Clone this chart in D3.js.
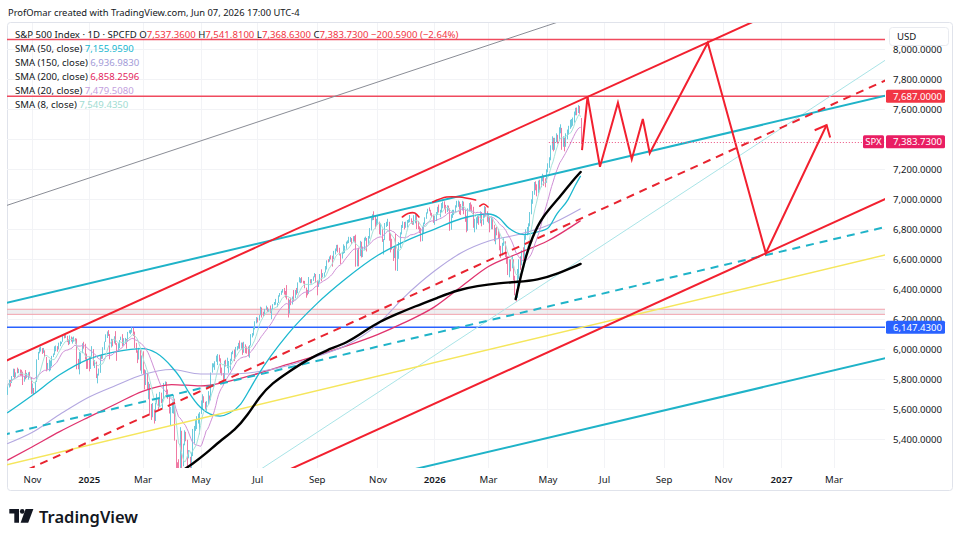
<!DOCTYPE html>
<html>
<head>
<meta charset="utf-8">
<script src="https://cdn.jsdelivr.net/npm/d3@7"></script>
<style>
  body { margin: 0; background: #fff; }
  svg text { font-family: "Noto Sans", sans-serif; }
</style>
</head>
<body>
<svg id="chart" width="961" height="540"></svg>
<script>
// ---- data (daily bars of the S&P 500, Oct 8 2024 .. Jun 5 2026) ----
const closes = [
  // Oct 2024
  5751,5792,5780,5815,5859,5815,5842,5841,5864,5853,5851,5797,5809,5808,5823,5832,5813,5705,
  // Nov 2024
  5728,5712,5782,5929,5973,5996,6001,5984,5985,5949,5871,5893,5917,5917,5949,5969,5987,6021,5999,6032,
  // Dec 2024
  6047,6050,6087,6075,6090,6053,6034,6085,6051,6051,6074,6050,5872,5867,5931,5974,6040,6037,5971,5907,5882,
  // Jan 2025
  5869,5942,5975,5909,5918,5827,5836,5843,5950,5937,5997,6049,6086,6119,6101,6012,6067,6039,6071,6041,
  // Feb 2025
  5994,6037,6061,6083,6026,6066,6069,6052,6115,6115,6129,6144,6118,6013,5983,5955,5956,5861,5955,
  // Mar 2025
  5850,5778,5843,5739,5770,5615,5572,5599,5522,5639,5675,5615,5675,5663,5668,5768,5777,5712,5693,5581,5612,
  // Apr 2025
  5633,5671,5397,5074,5062,4982,5457,5268,5363,5406,5397,5276,5283,5158,5288,5376,5485,5525,5529,5561,5569,
  // May 2025
  5604,5687,5650,5607,5631,5664,5660,5844,5886,5892,5917,5958,5964,5940,5845,5842,5803,5922,5889,5912,5912,
  // Jun 2025
  5936,5970,5971,5939,6000,6006,6039,6022,6045,5977,6033,5983,5981,5968,6025,6092,6092,6141,6173,6205,
  // Jul 2025
  6198,6227,6279,6230,6226,6263,6280,6260,6269,6244,6264,6297,6297,6306,6309,6359,6363,6389,6390,6371,6362,6339,
  // Aug 2025
  6238,6330,6299,6345,6340,6389,6374,6446,6466,6469,6450,6449,6411,6396,6370,6467,6439,6465,6481,6502,6460,
  // Sep 2025
  6416,6448,6502,6482,6495,6512,6532,6588,6584,6615,6607,6600,6632,6664,6693,6657,6638,6605,6644,6661,6688,
  // Oct 2025
  6711,6715,6716,6740,6714,6753,6735,6553,6655,6644,6671,6630,6664,6735,6735,6699,6738,6792,6875,6891,6890,6822,6840,
  // Nov 2025
  6851,6771,6796,6720,6728,6832,6846,6850,6737,6734,6672,6617,6642,6538,6603,6705,6766,6813,6849,
  // Dec 2025
  6812,6829,6850,6857,6870,6846,6840,6886,6901,6827,6816,6800,6721,6775,6834,6878,6910,6932,6930,6905,6896,6845,
  // Jan 2026
  6858,6902,6944,6920,6921,6966,6977,6963,6927,6944,6940,6797,6876,6913,6915,6950,6978,6978,6969,6939,
  // Feb 2026
  6975,6918,6882,6798,6932,6965,6942,6941,6833,6836,6843,6881,6861,6909,6837,6890,6946,6908,6879,
  // Mar 2026
  6880,6816,6870,6830,6740,6795,6781,6775,6672,6632,6699,6716,6625,6606,6506,6581,6556,6592,6477,6369,6343,6528,
  // Apr 2026
  6575,6560,6640,6610,6745,6770,6790,6820,6905,6990,7040,7105,7090,7055,7110,7085,7140,7150,7120,7115,7190,
  // May 2026
  7230,7262,7345,7398,7337,7398,7412,7400,7470,7476,7385,7402,7375,7425,7454,7479,7518,7520,7530,7575,
  // Jun 2026
  7600,7585,7618,7584.32,7383.73
];
const highs = [
  5757,5796,5796,5822,5871,5870,5846,5878,5870,5866,5863,5834,5822,5862,5843,5847,5850,5775,
  5772,5742,5784,5933,5983,6012,6018,6008,6009,5993,5929,5909,5932,5925,5956,5972,6020,6025,6020,6044,
  6053,6050,6092,6099,6100,6088,6065,6093,6079,6079,6085,6057,6071,5936,5982,5978,6040,6050,6007,5941,5930,
  5949,5949,6021,6001,5928,5902,5837,5872,5961,5965,6014,6051,6100,6119,6128,6018,6070,6059,6087,6121,
  6022,6042,6062,6084,6101,6074,6076,6064,6116,6127,6129,6147,6134,6115,6043,5993,6010,5994,5959,
  5987,5866,5860,5812,5783,5705,5636,5642,5597,5645,5704,5654,5716,5711,5670,5776,5786,5783,5732,5690,5615,
  5651,5696,5500,5292,5247,5267,5481,5405,5371,5460,5450,5367,5328,5233,5309,5469,5489,5528,5554,5571,5581,
  5659,5700,5683,5650,5654,5721,5692,5845,5907,5906,5920,5958,5968,5953,5939,5878,5839,5924,5930,5944,5922,
  5937,5981,5991,5999,6016,6021,6043,6059,6045,6026,6050,6024,6019,6019,6028,6101,6108,6146,6187,6215,
  6211,6228,6284,6278,6250,6269,6291,6269,6270,6292,6271,6301,6315,6336,6310,6360,6375,6390,6402,6409,6389,6428,
  6288,6330,6345,6352,6395,6395,6409,6446,6481,6474,6481,6457,6456,6398,6394,6482,6467,6468,6486,6508,6490,
  6416,6454,6502,6533,6508,6513,6555,6593,6601,6619,6627,6624,6656,6672,6696,6697,6677,6634,6650,6700,6690,
  6718,6726,6750,6749,6741,6754,6756,6764,6665,6678,6723,6717,6685,6744,6751,6742,6755,6808,6876,6900,6920,6875,6870,
  6890,6804,6839,6800,6735,6842,6850,6870,6842,6775,6737,6666,6683,6770,6664,6715,6780,6829,6853,
  6843,6851,6862,6866,6895,6873,6856,6894,6905,6901,6856,6820,6810,6816,6845,6880,6913,6937,6946,6925,6910,6898,
  6890,6915,6950,6965,6930,6975,6985,6986,6955,6960,6958,6880,6900,6930,6930,6960,6990,6992,6985,6960,
  6990,6985,6930,6890,6940,6975,6980,6965,6950,6870,6880,6900,6890,6920,6915,6900,6955,6950,6920,
  6905,6870,6885,6880,6820,6810,6815,6800,6770,6690,6710,6740,6720,6650,6620,6600,6600,6620,6600,6490,6400,6535,
  6600,6620,6660,6680,6760,6800,6815,6840,6915,7000,7055,7115,7120,7100,7125,7130,7150,7170,7160,7140,7200,
  7240,7280,7360,7420,7410,7410,7440,7430,7480,7500,7470,7420,7410,7440,7465,7490,7530,7535,7545,7585,
  7610,7612,7628,7622,7541.81
];
const lows = [
  5704,5745,5752,5775,5824,5807,5815,5840,5846,5824,5824,5762,5784,5800,5818,5798,5811,5703,
  5723,5697,5728,5886,5947,5975,5985,5969,5976,5950,5853,5864,5853,5860,5886,5948,5963,5993,5984,6003,
  6021,6036,6061,6073,6080,6048,6028,6061,6051,6038,6060,6036,5867,5867,5833,5902,5982,6004,5932,5869,5870,
  5853,5888,5960,5890,5875,5808,5773,5825,5924,5936,5971,6007,6066,6075,6089,5933,6012,6020,6046,6030,
  5923,5990,6007,6066,6020,6048,6043,6004,6052,6107,6100,6111,6089,6009,5977,5908,5932,5858,5837,
  5836,5732,5762,5734,5667,5565,5529,5547,5505,5562,5640,5597,5622,5641,5603,5724,5760,5695,5670,5572,5489,
  5574,5571,5391,5070,4835,4910,4857,5116,5220,5360,5387,5221,5273,5101,5208,5357,5372,5456,5468,5505,5433,
  5598,5640,5643,5599,5590,5649,5650,5786,5856,5880,5863,5926,5895,5919,5840,5825,5768,5855,5885,5874,5843,
  5861,5921,5967,5921,5979,5993,6004,6003,6004,5963,6008,5974,5971,5952,5943,6070,6079,6106,6132,6175,
  6179,6192,6240,6212,6221,6238,6264,6249,6248,6243,6201,6264,6294,6303,6281,6317,6351,6364,6378,6365,6345,6332,
  6212,6272,6294,6301,6317,6350,6364,6386,6447,6441,6444,6438,6407,6344,6360,6371,6439,6438,6456,6480,6445,
  6360,6416,6444,6454,6480,6483,6516,6545,6579,6596,6599,6551,6615,6633,6654,6646,6626,6569,6607,6637,6642,
  6670,6704,6708,6718,6701,6722,6717,6551,6612,6553,6621,6612,6615,6681,6724,6652,6705,6768,6840,6860,6862,6805,6822,
  6830,6767,6760,6716,6632,6799,6815,6822,6724,6646,6664,6589,6608,6525,6522,6635,6676,6775,6809,
  6799,6810,6811,6843,6847,6838,6830,6830,6840,6801,6800,6775,6718,6745,6790,6840,6870,6905,6920,6892,6880,6843,
  6830,6855,6895,6912,6880,6915,6940,6935,6905,6915,6925,6790,6800,6880,6895,6910,6945,6950,6900,6895,
  6925,6900,6850,6780,6790,6920,6930,6910,6810,6780,6800,6840,6830,6840,6820,6830,6880,6890,6850,
  6840,6780,6800,6800,6720,6700,6760,6740,6660,6610,6625,6690,6615,6570,6495,6480,6520,6540,6460,6360,6316,6370,
  6470,6530,6570,6590,6680,6730,6760,6770,6820,6900,6970,7030,7060,7020,7040,7060,7080,7120,7090,7080,7110,
  7180,7210,7260,7330,7320,7330,7380,7370,7390,7440,7330,7350,7320,7350,7400,7430,7470,7480,7490,7510,
  7560,7560,7575,7570,7368.63
];
const firstDay = "2024-10-08";
const closeBeforeFirst = 5695.94;
const lastOpen = 7537.36;

const holidays = ["2024-11-28","2024-12-25","2025-01-01","2025-01-09","2025-01-20","2025-02-17",
  "2025-04-18","2025-05-26","2025-06-19","2025-07-04","2025-09-01","2025-11-27","2025-12-25",
  "2026-01-01","2026-01-19","2026-02-16","2026-04-03","2026-05-25","2026-06-19","2026-07-03",
  "2026-09-07","2026-11-26","2026-12-25","2027-01-01","2027-01-18","2027-02-15","2027-03-26"];

// moving averages (50 / 150 / 200 day)
const sma50 = [["2024-10-08",5575],["2024-11-01",5692],["2024-12-02",5830],["2025-01-02",5935],
  ["2025-02-03",5985],["2025-03-03",6005],["2025-03-17",5975],["2025-04-01",5884],["2025-04-09",5815],
  ["2025-04-17",5720],["2025-05-01",5612],["2025-05-12",5568],["2025-05-21",5555],["2025-06-02",5575],
  ["2025-06-12",5635],["2025-06-24",5740],["2025-07-01",5820],["2025-08-01",6100],["2025-09-02",6303],
  ["2025-10-01",6470],["2025-11-03",6625],["2025-12-01",6716],["2026-01-02",6800],["2026-02-02",6872],
  ["2026-03-02",6902],["2026-03-12",6875],["2026-03-23",6808],["2026-04-08",6765],["2026-04-16",6775],
  ["2026-05-01",6805],["2026-05-12",6905],["2026-05-22",7000],["2026-06-01",7090],["2026-06-05",7156]];
const sma150 = [["2024-10-08",5370],["2024-11-01",5445],["2024-12-02",5565],["2025-01-02",5680],
  ["2025-02-03",5760],["2025-03-03",5830],["2025-04-01",5865],["2025-05-01",5835],["2025-06-02",5835],
  ["2025-07-01",5850],["2025-08-01",5890],["2025-09-02",5952],["2025-10-01",6025],["2025-11-03",6165],
  ["2025-12-01",6345],["2026-01-02",6520],["2026-02-02",6645],["2026-03-02",6720],["2026-04-01",6765],
  ["2026-05-01",6825],["2026-06-05",6937]];
const sma200 = [["2024-10-08",5260],["2024-11-01",5349],["2024-12-02",5451],["2025-01-02",5548],
  ["2025-02-03",5637],["2025-03-03",5720],["2025-04-01",5765],["2025-05-01",5756],["2025-06-02",5788],
  ["2025-07-01",5837],["2025-08-01",5899],["2025-09-02",5958],["2025-10-01",6021],["2025-11-03",6098],
  ["2025-12-01",6176],["2026-01-02",6281],["2026-02-02",6420],["2026-03-02",6550],["2026-04-01",6640],
  ["2026-05-01",6722],["2026-06-05",6858]];

const smaNames = ["SMA (50, close)","SMA (150, close)","SMA (200, close)","SMA (20, close)","SMA (8, close)"];
const smaLast  = [7155.9590, 6936.9830, 6858.2596, 7479.5080, 7549.4350];

// drawings
const grayLine      = [["2024-10-08",6960],["2026-04-01",8094]];
const channelTop    = [["2024-10-08",5927],["2026-06-01",7645]];
const channelBottom = [["2024-10-08",4344],["2026-06-01",6063]];
const wedgeTop      = [["2024-10-08",6311],["2026-06-01",7203]];
const wedgeBottom   = [["2024-10-08",4561],["2026-06-01",5453]];
const yellowLine    = [["2024-10-08",5231],["2026-06-01",6135]];
const tealLine      = [["2024-10-08",4093],["2026-06-01",6573]];
const levels = [8065, 7687, 6147.43];
const band = [6233, 6267];

const brushLong = [["2025-04-09",5180],["2025-04-23",5235],["2025-05-07",5305],["2025-05-21",5389],
  ["2025-06-06",5462],["2025-06-20",5560],["2025-07-03",5689],["2025-07-17",5775],["2025-08-01",5845],
  ["2025-08-21",5929],["2025-09-11",5995],["2025-10-02",6042],["2025-10-22",6129],["2025-11-04",6182],
  ["2025-11-21",6235],["2025-12-10",6282],["2026-01-08",6349],["2026-01-28",6395],["2026-02-18",6422],
  ["2026-03-12",6442],["2026-03-31",6449],["2026-04-22",6462],["2026-05-12",6502],["2026-06-05",6569]];
const brushSteep = [["2026-03-30",6335],["2026-04-08",6582],["2026-04-16",6749],["2026-04-27",6882],
  ["2026-05-14",7015],["2026-05-28",7122],["2026-06-05",7182]];
const arcA = [["2025-11-28",6882],["2025-12-04",6905],["2025-12-11",6909],["2025-12-16",6882]];
const arcB = [["2025-12-31",6982],["2026-01-15",7015],["2026-01-29",7015],["2026-02-17",6995]];
const arcC = [["2026-02-20",6955],["2026-02-25",6969],["2026-03-02",6949]];
const projection = [["2026-06-08",7328],["2026-06-12",7684],["2026-06-26",7217],["2026-07-16",7644],
  ["2026-07-30",7267],["2026-08-11",7535],["2026-08-18",7307],["2026-10-16",8044],["2026-12-16",6640],
  ["2027-02-22",7495]];
const priceLineFrom = "2026-05-04";

const priceTicks = [5400,5600,5800,6000,6200,6400,6600,6800,7000,7200,7400,7600,7800,8000];
const tickDates  = ["2024-11-01","2025-01-02","2025-03-03","2025-05-01","2025-07-01","2025-09-02",
  "2025-11-03","2026-01-02","2026-03-02","2026-05-01","2026-07-01","2026-09-01","2026-11-02",
  "2027-01-04","2027-03-01"];
const tickLabels = ["Nov","2025","Mar","May","Jul","Sep","Nov","2026","Mar","May","Jul","Sep","Nov","2027","Mar"];

// ---- setup ----
const plot = {left: 7, right: 885, top: 23, bottom: 468};
const svg = d3.select("#chart");
svg.append("rect").attr("width", 961).attr("height", 540).attr("fill", "#fff");

// trading-day calendar, so bars sit evenly like TradingView
const calendar = [];
(function () {
  const hol = new Set(holidays);
  const fmt = d3.utcFormat("%Y-%m-%d");
  const d = new Date(firstDay + "T00:00:00Z");
  const end = new Date("2027-06-30T00:00:00Z");
  while (d <= end) {
    const wd = d.getUTCDay(), s = fmt(d);
    if (wd !== 0 && wd !== 6 && !hol.has(s)) calendar.push(s);
    d.setUTCDate(d.getUTCDate() + 1);
  }
})();
const barOf = s => d3.bisectLeft(calendar, s);

const x = d3.scaleLinear().domain([barOf("2024-11-01"), barOf("2027-01-04")]).range([32, 781]);
const y = d3.scaleLinear().domain([5400, 8000]).range([439.3, 49.3]);

svg.append("defs").append("clipPath").attr("id", "plotClip")
  .append("rect").attr("x", plot.left).attr("y", plot.top)
  .attr("width", plot.right - plot.left).attr("height", plot.bottom - plot.top);

// header
svg.append("text").attr("x", 8).attr("y", 15.5).attr("font-size", 9.4).attr("fill", "#131722")
  .text("ProfOmar created with TradingView.com, Jun 07, 2026 17:00 UTC-4");

// frame
svg.append("rect").attr("x", 7.5).attr("y", 22.5).attr("width", 945).attr("height", 468)
  .attr("rx", 3).attr("fill", "none").attr("stroke", "#e0e3eb");

const g = svg.append("g").attr("clip-path", "url(#plotClip)");

// grid
g.append("g").selectAll("line").data(tickDates).join("line")
  .attr("x1", d => Math.round(x(barOf(d))) + 0.5).attr("x2", d => Math.round(x(barOf(d))) + 0.5)
  .attr("y1", plot.top).attr("y2", plot.bottom).attr("stroke", "#f2f3f6");
g.append("g").selectAll("line").data(priceTicks).join("line")
  .attr("x1", plot.left).attr("x2", plot.right)
  .attr("y1", d => Math.round(y(d)) + 0.5).attr("y2", d => Math.round(y(d)) + 0.5).attr("stroke", "#f2f3f6");

// band + horizontal levels
g.append("rect").attr("x", plot.left).attr("width", plot.right - plot.left)
  .attr("y", y(band[1])).attr("height", y(band[0]) - y(band[1])).attr("fill", "rgba(200,200,206,0.3)");
g.append("g").selectAll("line").data(band).join("line")
  .attr("x1", plot.left).attr("x2", plot.right).attr("y1", d => y(d)).attr("y2", d => y(d))
  .attr("stroke", "#f3a3ad").attr("stroke-width", 1);
g.append("g").selectAll("line").data(levels).join("line")
  .attr("x1", plot.left).attr("x2", plot.right).attr("y1", d => y(d)).attr("y2", d => y(d))
  .attr("stroke", (d, i) => i === 2 ? "#2962ff" : "#f04a5e").attr("stroke-width", 1.4);

// candles
const n = Math.min(closes.length, highs.length, lows.length);
const bars = d3.range(n).map(i => {
  const o = i === n - 1 ? lastOpen : (i ? closes[i - 1] : closeBeforeFirst);
  const c = closes[i];
  return {i, o, c, h: Math.max(highs[i], o, c), l: Math.min(lows[i], o, c)};
});
const upCol = "#6ccbdd", downCol = "#f07aa3";
g.append("g").selectAll("line").data(bars).join("line")
  .attr("x1", d => Math.round(x(d.i)) + 0.5).attr("x2", d => Math.round(x(d.i)) + 0.5)
  .attr("y1", d => y(d.h)).attr("y2", d => y(d.l))
  .attr("stroke", d => d.c >= d.o ? upCol : downCol).attr("stroke-width", 1);

// moving averages
const smaLine = d3.line().x(d => x(barOf(d[0]))).y(d => y(d[1])).curve(d3.curveMonotoneX);
function trailing(len) {
  return closes.map((c, i) => {
    const s = closes.slice(Math.max(0, i - len + 1), i + 1);
    return [i, d3.mean(s)];
  });
}
const idxLine = d3.line().x(d => x(d[0])).y(d => y(d[1]));
g.append("path").attr("d", smaLine(sma200)).attr("fill", "none").attr("stroke", "#e0336e").attr("stroke-width", 1.3);
g.append("path").attr("d", smaLine(sma150)).attr("fill", "none").attr("stroke", "#b3a7e0").attr("stroke-width", 1.1);
g.append("path").attr("d", smaLine(sma50)).attr("fill", "none").attr("stroke", "#1cb8cf").attr("stroke-width", 1.3);
g.append("path").attr("d", idxLine(trailing(20))).attr("fill", "none").attr("stroke", "#cf8fd6").attr("stroke-width", 1);
g.append("path").attr("d", idxLine(trailing(8))).attr("fill", "none").attr("stroke", "#a6e2da").attr("stroke-width", 1);

// extended trend lines
const x0 = x.invert(plot.left - 5), x1 = x.invert(plot.right + 5);
function extended(pts) {
  const b0 = barOf(pts[0][0]), b1 = barOf(pts[1][0]);
  const k = (pts[1][1] - pts[0][1]) / (b1 - b0);
  return [[x0, pts[0][1] + k * (x0 - b0)], [x1, pts[0][1] + k * (x1 - b0)]];
}
function midOf(a, b) { return [[a[0][0], (a[0][1] + b[0][1]) / 2], [a[1][0], (a[1][1] + b[1][1]) / 2]]; }
const trend = [
  {pts: grayLine, col: "#8a8d96", w: 1},
  {pts: tealLine, col: "#a9e4e7", w: 1},
  {pts: yellowLine, col: "#f5e65c", w: 1.5},
  {pts: wedgeBottom, col: "#1fb3c8", w: 2},
  {pts: midOf(wedgeTop, wedgeBottom), col: "#1fb3c8", w: 2, dash: "8 6"},
  {pts: wedgeTop, col: "#1fb3c8", w: 2},
  {pts: channelBottom, col: "#f2202f", w: 2},
  {pts: midOf(channelTop, channelBottom), col: "#e8232f", w: 2, dash: "8 6"},
  {pts: channelTop, col: "#f2202f", w: 2}
];
g.append("g").selectAll("path").data(trend).join("path")
  .attr("d", d => idxLine(extended(d.pts))).attr("fill", "none")
  .attr("stroke", d => d.col).attr("stroke-width", d => d.w).attr("stroke-dasharray", d => d.dash || null);

// hand drawn black curves and red arcs
const brushPath = d3.line().x(d => x(barOf(d[0]))).y(d => y(d[1])).curve(d3.curveBasis);
[brushLong, brushSteep].forEach(p => g.append("path").attr("d", brushPath(p)).attr("fill", "none")
  .attr("stroke", "#000").attr("stroke-width", 2.4).attr("stroke-linecap", "round"));
const arcPath = d3.line().x(d => x(barOf(d[0]))).y(d => y(d[1])).curve(d3.curveCatmullRom);
[arcA, arcB, arcC].forEach(p => g.append("path").attr("d", arcPath(p)).attr("fill", "none")
  .attr("stroke", "#f2202f").attr("stroke-width", 1.6).attr("stroke-linecap", "round"));

// projected path with arrow
const projLine = d3.line().x(d => x(barOf(d[0]))).y(d => y(d[1]));
g.append("path").attr("d", projLine(projection)).attr("fill", "none")
  .attr("stroke", "#f2202f").attr("stroke-width", 2).attr("stroke-linejoin", "miter");
(function () {
  const a = projection[projection.length - 2], b = projection[projection.length - 1];
  const ax = x(barOf(a[0])), ay = y(a[1]), bx = x(barOf(b[0])), by = y(b[1]);
  const ang = Math.atan2(ay - by, ax - bx), len = 13, spread = 0.72;
  const wing = s => [bx + len * Math.cos(ang + s), by + len * Math.sin(ang + s)];
  const w1 = wing(spread), w2 = wing(-spread);
  g.append("path").attr("d", `M${w1[0]},${w1[1]}L${bx},${by}L${w2[0]},${w2[1]}`)
    .attr("fill", "none").attr("stroke", "#f2202f").attr("stroke-width", 2);
})();

// last price dotted line
const last = bars[n - 1];
g.append("line").attr("x1", x(barOf(priceLineFrom))).attr("x2", plot.right)
  .attr("y1", Math.round(y(last.c)) + 0.5).attr("y2", Math.round(y(last.c)) + 0.5)
  .attr("stroke", "#ec4f7f").attr("stroke-width", 1).attr("stroke-dasharray", "1 2");

// ---- legend ----
const f4 = d3.format(",.4f");
const chg = last.c - closes[n - 2];
const leg = svg.append("text").attr("x", 15).attr("y", 37.5).attr("font-size", 9.6).attr("fill", "#131722");
leg.append("tspan").text("S&P 500 Index · 1D · SPCFD ");
[["O", last.o], ["H", last.h], ["L", last.l], ["C", last.c]].forEach(([k, v]) => {
  leg.append("tspan").text(" " + k);
  leg.append("tspan").attr("fill", "#f23645").text(f4(v));
});
leg.append("tspan").attr("fill", "#f23645")
  .text(" " + f4(chg) + " (" + d3.format(".2%")(chg / closes[n - 2]) + ")");

const smaCols = ["#19b7cf", "#a39bd7", "#e31f5e", "#c4a1de", "#9fdcd2"];
smaNames.forEach((name, i) => {
  const t = svg.append("text").attr("x", 15).attr("y", 51.6 + i * 14).attr("font-size", 9.6).attr("fill", "#131722");
  t.append("tspan").text(name + " ");
  t.append("tspan").attr("fill", smaCols[i]).text(f4(smaLast[i]));
});

// ---- axes ----
// a scale label that sits fully under a price tag is not shown (as on the original)
const tagValues = [levels[1], levels[2], last.c];
const shownTicks = priceTicks.filter(v => !tagValues.some(t => Math.abs(y(t) - y(v)) < 4));
const yAxis = d3.axisRight(y).tickValues(shownTicks).tickSize(0).tickPadding(0).tickFormat(f4);
svg.append("g").attr("transform", "translate(893,0)").call(yAxis)
  .call(a => a.select(".domain").remove())
  .call(a => a.selectAll("text").attr("font-size", 9.6).attr("fill", "#131722").attr("font-family", "Noto Sans"));

const xAxis = d3.axisBottom(x).tickValues(tickDates.map(barOf)).tickSize(0).tickPadding(8)
  .tickFormat((d, i) => tickLabels[i]);
svg.append("g").attr("transform", `translate(0,${plot.bottom})`).call(xAxis)
  .call(a => a.select(".domain").remove())
  .call(a => a.selectAll("text").attr("font-size", 9.6).attr("fill", "#131722").attr("font-family", "Noto Sans")
    .attr("font-weight", (d, i) => /^\d{4}$/.test(tickLabels[i]) ? 600 : 400));

// price tags on the scale
function tag(v, fill, txt) {
  const yy = y(v);
  svg.append("rect").attr("x", 886).attr("y", yy - 6.5).attr("width", 59).attr("height", 13).attr("rx", 1.5).attr("fill", fill);
  svg.append("text").attr("x", 893).attr("y", yy + 3.4).attr("font-size", 9.6).attr("fill", "#fff").text(txt || f4(v));
}
tag(levels[1], "#f23645");
tag(levels[2], "#2962ff");
tag(last.c, "#e91e63");
svg.append("rect").attr("x", 863).attr("y", y(last.c) - 6.5).attr("width", 21).attr("height", 13).attr("rx", 1.5).attr("fill", "#e91e63");
svg.append("text").attr("x", 873.5).attr("y", y(last.c) + 3.4).attr("text-anchor", "middle")
  .attr("font-size", 9.6).attr("fill", "#fff").text("SPX");

// currency box
svg.append("rect").attr("x", 889.5).attr("y", 27.5).attr("width", 59).attr("height", 18).attr("rx", 3)
  .attr("fill", "#fff").attr("stroke", "#e9ebf0");
svg.append("text").attr("x", 897).attr("y", 40).attr("font-size", 9.6).attr("fill", "#131722").text("USD");

// ---- TradingView logo ----
const logo = svg.append("g").attr("fill", "#131722");
logo.append("path").attr("d", "M9.3,509H19V522.7H14.3V513.6H9.3Z");
logo.append("circle").attr("cx", 22.2).attr("cy", 511.4).attr("r", 2.3);
logo.append("path").attr("d", "M25.6,509H33.4L28.2,522.7H20.6Z");
svg.append("text").attr("x", 39).attr("y", 522.8).attr("font-size", 16.5).attr("font-weight", 600)
  .attr("font-family", "Inter").attr("fill", "#131722").text("TradingView");
</script>
</body>
</html>
